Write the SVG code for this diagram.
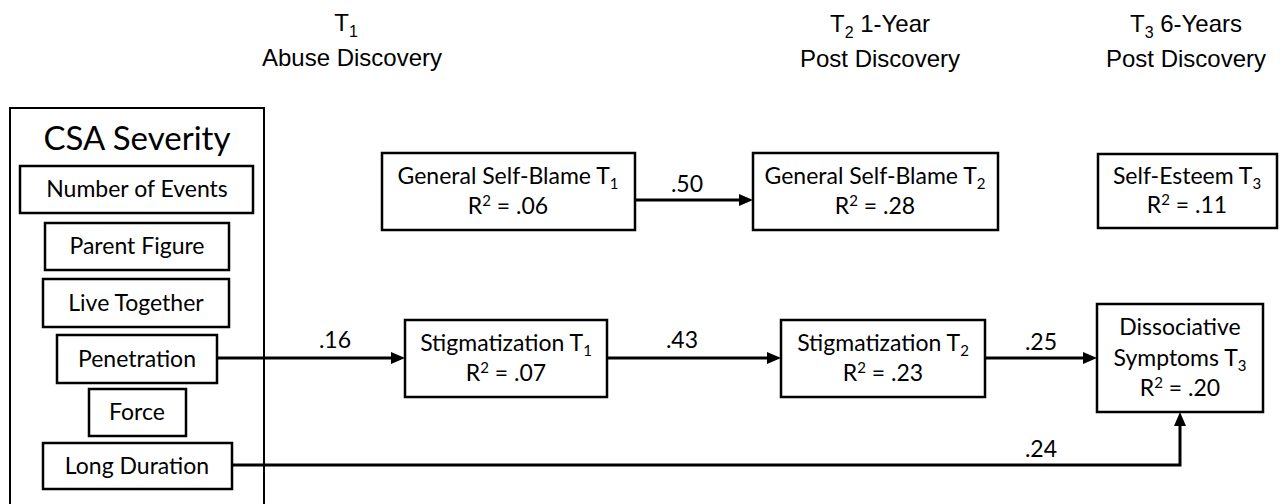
<svg xmlns="http://www.w3.org/2000/svg" width="1287" height="504" viewBox="0 0 1287 504">
  <style>
    .bg { fill: #ffffff; }
    .box { fill: #ffffff; stroke: #000000; stroke-width: 2.5; }
    .outer { fill: none; stroke: #000000; stroke-width: 2; }
    .lbl { font-family: Lato, "Liberation Sans", sans-serif; font-size: 23px; fill: #000000; text-anchor: middle; }
    .title { font-family: Lato, "Liberation Sans", sans-serif; font-size: 33px; fill: #000000; text-anchor: middle; }
    .hdr { font-family: "Liberation Sans", Arial, sans-serif; font-size: 24px; fill: #000000; text-anchor: middle; }
    .sub { font-size: 15px; }
    .hsub { font-size: 16px; }
    .edge { fill: none; stroke: #000000; stroke-width: 3; }
  </style>
  <defs>
    <marker id="arrow" viewBox="0 0 14 12" markerWidth="14" markerHeight="12" refX="2" refY="6" orient="auto" markerUnits="userSpaceOnUse">
      <path d="M0,0 L14,6 L0,12 z" fill="#000000"/>
    </marker>
  </defs>

  <rect class="bg" x="0" y="0" width="1287" height="504"/>

  <!-- time-point headers -->
  <g id="headers">
    <text class="hdr" x="346" y="31">T<tspan class="hsub" dy="6">1</tspan></text>
    <text class="hdr" x="352" y="66">Abuse Discovery</text>
    <text class="hdr" x="880" y="32">T<tspan class="hsub" dy="6">2</tspan><tspan dy="-6"> 1-Year</tspan></text>
    <text class="hdr" x="880" y="67">Post Discovery</text>
    <text class="hdr" x="1186" y="32">T<tspan class="hsub" dy="6">3</tspan><tspan dy="-6"> 6-Years</tspan></text>
    <text class="hdr" x="1186" y="67">Post Discovery</text>
  </g>

  <!-- CSA severity indicator block -->
  <g id="csa-severity">
    <rect class="outer" x="10" y="108" width="254" height="420"/>
    <text class="title" x="137" y="150">CSA Severity</text>
  </g>
  <g id="number-of-events">
    <rect class="box" x="20" y="166" width="233" height="47"/>
    <text class="lbl" x="137" y="197">Number of Events</text>
  </g>
  <g id="parent-figure">
    <rect class="box" x="45" y="223" width="184" height="47"/>
    <text class="lbl" x="137" y="254">Parent Figure</text>
  </g>
  <g id="live-together">
    <rect class="box" x="43" y="279" width="186" height="48"/>
    <text class="lbl" x="136" y="311">Live Together</text>
  </g>
  <g id="penetration">
    <rect class="box" x="57" y="335" width="160" height="48"/>
    <text class="lbl" x="137" y="367">Penetration</text>
  </g>
  <g id="force">
    <rect class="box" x="89" y="389" width="97" height="47"/>
    <text class="lbl" x="137" y="420">Force</text>
  </g>
  <g id="long-duration">
    <rect class="box" x="43" y="443" width="189" height="46"/>
    <text class="lbl" x="137" y="474">Long Duration</text>
  </g>

  <!-- mediators and outcomes -->
  <g id="self-blame-t1">
    <rect class="box" x="382" y="153" width="253" height="77"/>
    <text class="lbl" x="508" y="184">General Self-Blame T<tspan class="sub" dy="5">1</tspan></text>
    <text class="lbl" x="508" y="214">R<tspan class="sub" dy="-8">2</tspan><tspan dy="8"> = .06</tspan></text>
  </g>
  <g id="self-blame-t2">
    <rect class="box" x="753" y="153" width="245" height="77"/>
    <text class="lbl" x="875" y="184">General Self-Blame T<tspan class="sub" dy="5">2</tspan></text>
    <text class="lbl" x="875" y="214">R<tspan class="sub" dy="-8">2</tspan><tspan dy="8"> = .28</tspan></text>
  </g>
  <g id="self-esteem-t3">
    <rect class="box" x="1098" y="154" width="179" height="74"/>
    <text class="lbl" x="1187" y="184">Self-Esteem T<tspan class="sub" dy="5">3</tspan></text>
    <text class="lbl" x="1187" y="213">R<tspan class="sub" dy="-8">2</tspan><tspan dy="8"> = .11</tspan></text>
  </g>
  <g id="stigmatization-t1">
    <rect class="box" x="405" y="320" width="202" height="77"/>
    <text class="lbl" x="506" y="351">Stigmatization T<tspan class="sub" dy="5">1</tspan></text>
    <text class="lbl" x="506" y="381">R<tspan class="sub" dy="-8">2</tspan><tspan dy="8"> = .07</tspan></text>
  </g>
  <g id="stigmatization-t2">
    <rect class="box" x="781" y="320" width="204" height="77"/>
    <text class="lbl" x="883" y="351">Stigmatization T<tspan class="sub" dy="5">2</tspan></text>
    <text class="lbl" x="883" y="381">R<tspan class="sub" dy="-8">2</tspan><tspan dy="8"> = .23</tspan></text>
  </g>
  <g id="dissociative-t3">
    <rect class="box" x="1097" y="304" width="166" height="108"/>
    <text class="lbl" x="1180" y="335">Dissociative</text>
    <text class="lbl" x="1180" y="366">Symptoms T<tspan class="sub" dy="5">3</tspan></text>
    <text class="lbl" x="1180" y="396">R<tspan class="sub" dy="-8">2</tspan><tspan dy="8"> = .20</tspan></text>
  </g>

  <!-- paths with coefficients -->
  <g id="connectors">
    <path class="edge" d="M635,200 H741" marker-end="url(#arrow)"/>
    <path class="edge" d="M217,358 H393" marker-end="url(#arrow)"/>
    <path class="edge" d="M607,358 H769" marker-end="url(#arrow)"/>
    <path class="edge" d="M985,358 H1085" marker-end="url(#arrow)"/>
    <path class="edge" d="M232,465 H1180 V424" marker-end="url(#arrow)"/>
    <text class="lbl" x="687" y="192">.50</text>
    <text class="lbl" x="335" y="348">.16</text>
    <text class="lbl" x="682" y="348">.43</text>
    <text class="lbl" x="1041" y="350">.25</text>
    <text class="lbl" x="1041" y="457">.24</text>
  </g>
</svg>
